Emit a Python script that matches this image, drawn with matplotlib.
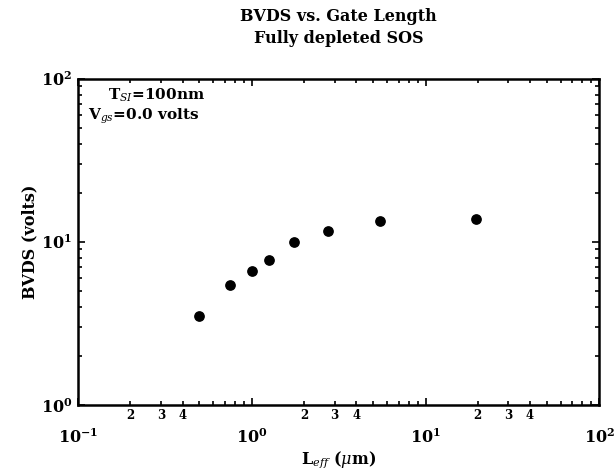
import matplotlib
matplotlib.use("Agg")
import matplotlib.pyplot as plt
from matplotlib.ticker import LogLocator, FixedFormatter, FixedLocator

# Gate length (um) vs drain breakdown voltage (V)
l_eff = [0.5, 0.75, 1.0, 1.25, 1.75, 2.75, 5.5, 19.5]
bvds = [3.5, 5.45, 6.65, 7.75, 10.0, 11.7, 13.4, 13.8]

x_minor_ticks = [0.2, 0.3, 0.4, 2, 3, 4, 20, 30, 40]
x_minor_labels = ["2", "3", "4"] * 3

plt.rcParams["font.family"] = "DejaVu Serif"
plt.rcParams["mathtext.fontset"] = "dejavuserif"

fig = plt.figure(figsize=(6.14, 4.75), dpi=100)
ax = fig.add_axes([0.127, 0.147, 0.849, 0.687])

ax.scatter(l_eff, bvds, s=45, color="black", zorder=3)

ax.set_xscale("log")
ax.set_yscale("log")
ax.set_xlim(0.1, 100)
ax.set_ylim(1, 100)

ax.xaxis.set_major_locator(LogLocator(base=10, numticks=10))
ax.xaxis.set_minor_locator(LogLocator(base=10, subs=range(2, 10), numticks=10))
ax.yaxis.set_minor_locator(LogLocator(base=10, subs=range(2, 10), numticks=10))

# minor labels 2,3,4 under the x axis
sec = ax.secondary_xaxis("bottom")
sec.xaxis.set_major_locator(FixedLocator(x_minor_ticks))
sec.xaxis.set_major_formatter(FixedFormatter(x_minor_labels))
sec.xaxis.set_minor_locator(FixedLocator([]))
sec.tick_params(length=0, pad=3, labelsize=8.5)
for lab in sec.get_xticklabels():
    lab.set_fontweight("bold")
sec.spines["bottom"].set_visible(False)

ax.tick_params(which="both", direction="in", top=True, right=True, width=1.2)
ax.tick_params(which="major", length=5)
ax.tick_params(which="minor", length=3)
ax.tick_params(axis="x", which="major", pad=17, labelsize=11.5)
ax.tick_params(axis="y", which="major", labelsize=11.5, pad=4)
for lab in ax.get_xticklabels() + ax.get_yticklabels():
    lab.set_fontweight("bold")

for sp in ax.spines.values():
    sp.set_linewidth(1.8)

ax.set_title("BVDS vs. Gate Length\nFully depleted SOS", fontsize=11.5,
             fontweight="bold", pad=26, linespacing=1.35)
ax.set_xlabel(r"L$_{eff}$ ($\mu$m)", fontsize=11.5, fontweight="bold", labelpad=1)
ax.set_ylabel("BVDS (volts)", fontsize=11.5, fontweight="bold", labelpad=2)

ax.text(0.058, 0.975, r"T$_{SI}$=100nm", transform=ax.transAxes, fontsize=11,
        fontweight="bold", va="top")
ax.text(0.02, 0.915, r"V$_{gs}$=0.0 volts", transform=ax.transAxes, fontsize=11,
        fontweight="bold", va="top")

fig.savefig("out.png", dpi=100)
